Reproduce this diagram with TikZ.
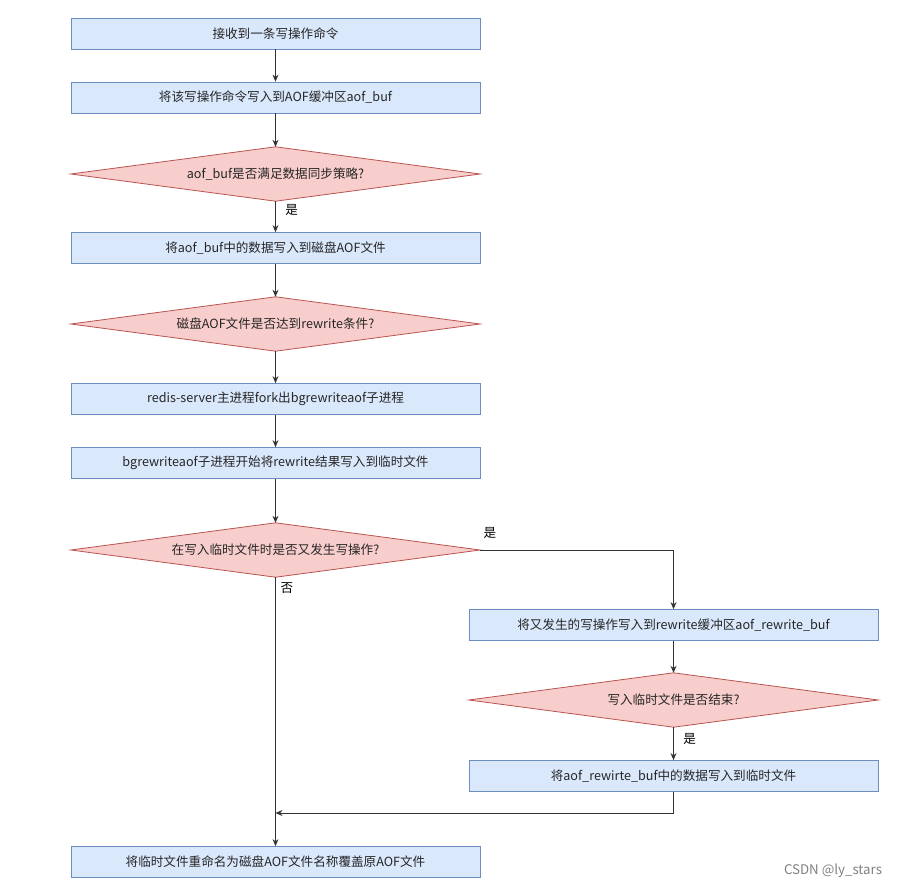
\documentclass[tikz,border=0pt]{standalone}
\usepackage{fontspec}
\setmainfont{Noto Sans CJK SC}
\usetikzlibrary{shapes.geometric,arrows.meta}
\definecolor{boxfill}{HTML}{DAE8FC}
\definecolor{boxline}{HTML}{6C8EBF}
\definecolor{dfill}{HTML}{F8CECC}
\definecolor{dline}{HTML}{B85450}
\begin{document}
\begin{tikzpicture}[x=1pt,y=-1pt,
  every node/.style={font=\fontsize{12.6}{14}\selectfont, text=black!85},
  procbox/.style={draw=boxline, fill=boxfill, line width=0.8pt, minimum width=409pt, minimum height=31pt, inner sep=0pt},
  decslot/.style={minimum width=409pt, minimum height=54pt, inner sep=0pt},
  decshape/.style={fill=dfill, draw=dline, line width=0.8pt},
  flow/.style={draw=black!80, line width=0.9pt, -{Stealth[length=7pt,width=6pt]}},
  lbl/.style={font=\fontsize{12.6}{14}\selectfont, text=black}]
\useasboundingbox (0,0) rectangle (897,888);
\node[procbox] (b1) at (275.5,33.5) {接收到一条写操作命令};
\node[procbox] (b2) at (275.5,97.5) {将该写操作命令写入到AOF缓冲区aof\_buf};
\node[decslot] (d1) at (275.5,174) {};
\path[decshape] (d1.west) -- (d1.north) -- (d1.east) -- (d1.south) -- cycle;
\node at (d1) {aof\_buf是否满足数据同步策略?};
\node[procbox] (b3) at (275.5,248) {将aof\_buf中的数据写入到磁盘AOF文件};
\node[decslot] (d2) at (275.5,324) {};
\path[decshape] (d2.west) -- (d2.north) -- (d2.east) -- (d2.south) -- cycle;
\node at (d2) {磁盘AOF文件是否达到rewrite条件?};
\node[procbox] (b4) at (275.5,399) {redis-server主进程fork出bgrewriteaof子进程};
\node[procbox] (b5) at (275.5,463) {bgrewriteaof子进程开始将rewrite结果写入到临时文件};
\node[decslot] (d3) at (275.5,550) {};
\path[decshape] (d3.west) -- (d3.north) -- (d3.east) -- (d3.south) -- cycle;
\node at (d3) {在写入临时文件时是否又发生写操作?};
\node[procbox] (b6) at (673.5,625) {将又发生的写操作写入到rewrite缓冲区aof\_rewrite\_buf};
\node[decslot] (d4) at (673.5,700) {};
\path[decshape] (d4.west) -- (d4.north) -- (d4.east) -- (d4.south) -- cycle;
\node at (d4) {写入临时文件是否结束?};
\node[procbox] (b7) at (673.5,776) {将aof\_rewirte\_buf中的数据写入到临时文件};
\node[procbox] (b8) at (275.5,862) {将临时文件重命名为磁盘AOF文件名称覆盖原AOF文件};
\coordinate (m) at (275.5,813);
\draw[flow] (b1) -- (b2);
\draw[flow] (b2) -- (d1);
\draw[flow] (d1) -- node[lbl, right=6pt, pos=0.3] {是} (b3);
\draw[flow] (b3) -- (d2);
\draw[flow] (d2) -- (b4);
\draw[flow] (b4) -- (b5);
\draw[flow] (b5) -- (d3);
\draw[flow] (d3.east) -| (b6.north);
\node[lbl] at (490,533) {是};
\draw[flow] (d3) -- (b8);
\node[lbl] at (287,588) {否};
\draw[flow] (b6) -- (d4);
\draw[flow] (d4) -- node[lbl, right=6pt, pos=0.35] {是} (b7);
\draw[flow] (b7.south) |- (m);
\node[font=\fontsize{13.3}{15}\selectfont, text=black!50] (wm) at (833,871) {CSDN @ly\_stars};
\end{tikzpicture}
\end{document}
